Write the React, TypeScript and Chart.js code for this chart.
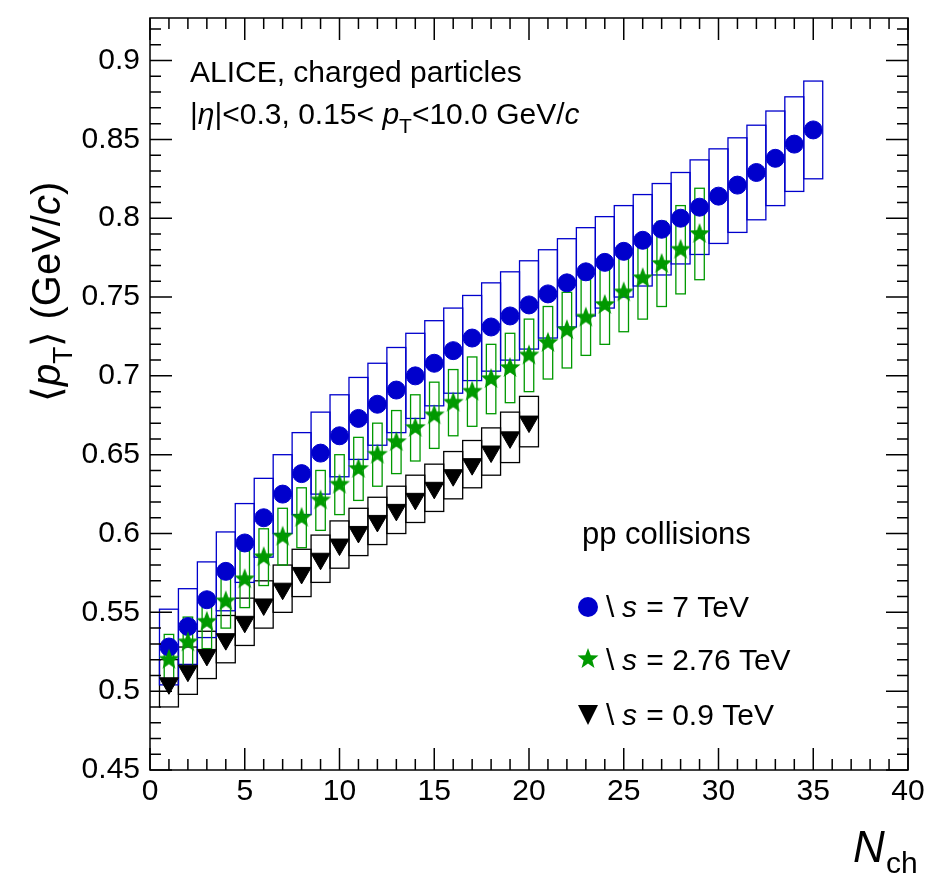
import React, { useEffect, useRef } from "react";
import { Chart, registerables } from "chart.js";
Chart.register(...registerables);

const nch7 = Array.from({ length: 35 }, (_, i) => i + 1);
const pt7 = [0.528,0.541,0.558,0.576,0.594,0.610,0.625,0.638,0.651,0.662,0.673,0.682,0.691,0.700,0.708,0.716,0.724,0.731,0.738,0.745,0.752,0.759,0.766,0.772,0.779,0.786,0.793,0.800,0.807,0.814,0.821,0.829,0.838,0.847,0.856];
const sys7 = [0.024,0.024,0.024,0.025,0.025,0.025,0.025,0.026,0.026,0.026,0.026,0.026,0.027,0.027,0.027,0.027,0.027,0.028,0.028,0.028,0.028,0.028,0.028,0.029,0.029,0.029,0.029,0.029,0.030,0.030,0.030,0.030,0.030,0.030,0.031];
const nch276 = Array.from({ length: 29 }, (_, i) => i + 1);
const pt276 = [0.520,0.531,0.544,0.557,0.571,0.585,0.598,0.610,0.621,0.631,0.641,0.650,0.658,0.667,0.675,0.683,0.690,0.698,0.705,0.713,0.721,0.729,0.737,0.745,0.753,0.762,0.771,0.780,0.790];
const sys276 = [0.016,0.016,0.017,0.017,0.018,0.018,0.018,0.019,0.019,0.019,0.020,0.020,0.020,0.021,0.021,0.021,0.022,0.022,0.022,0.023,0.023,0.024,0.024,0.025,0.025,0.026,0.027,0.028,0.029];
const nch09 = Array.from({ length: 20 }, (_, i) => i + 1);
const pt09 = [0.505,0.513,0.523,0.533,0.544,0.555,0.565,0.575,0.584,0.593,0.601,0.608,0.615,0.622,0.629,0.637,0.644,0.652,0.661,0.671];
const sys09 = [0.015,0.015,0.015,0.015,0.015,0.015,0.015,0.015,0.015,0.015,0.015,0.015,0.015,0.015,0.015,0.015,0.015,0.015,0.016,0.016];
const xTicks = [0,5,10,15,20,25,30,35,40];
const yTicks = [0.45,0.5,0.55,0.6,0.65,0.7,0.75,0.8,0.85,0.9];

const BLUE = "#0000cc", GREEN = "#009900", BLACK = "#000000";
const F = "'Liberation Sans', Arial, sans-serif";

function starCanvas(r: number, color: string) {
  const c = document.createElement("canvas");
  c.width = c.height = r * 2 + 2;
  const g = c.getContext("2d")!;
  g.fillStyle = color;
  g.beginPath();
  for (let i = 0; i < 10; i++) {
    const rr = i % 2 === 0 ? r : r * 0.42;
    const a = -Math.PI / 2 + (i * Math.PI) / 5;
    const x = r + 1 + rr * Math.cos(a), y = r + 1 + rr * Math.sin(a);
    i ? g.lineTo(x, y) : g.moveTo(x, y);
  }
  g.closePath();
  g.fill();
  return c;
}

export default function App() {
  const ref = useRef<HTMLCanvasElement>(null);
  useEffect(() => {
    const star = starCanvas(11, GREEN);
    const boxes = {
      id: "boxes",
      beforeDatasetsDraw(ch: any) {
        const { ctx, scales: { x, y } } = ch;
        ctx.save();
        ctx.lineWidth = 1.3;
        const draw = (xs: number[], ys: number[], es: number[], hw: number, col: string) => {
          ctx.strokeStyle = col;
          xs.forEach((v, i) => {
            const x0 = x.getPixelForValue(v - hw), x1 = x.getPixelForValue(v + hw);
            const y0 = y.getPixelForValue(ys[i] + es[i]), y1 = y.getPixelForValue(ys[i] - es[i]);
            ctx.strokeRect(x0, y0, x1 - x0, y1 - y0);
          });
        };
        draw(nch09, pt09, sys09, 0.5, BLACK);
        draw(nch7, pt7, sys7, 0.5, BLUE);
        draw(nch276, pt276, sys276, 0.25, GREEN);
        ctx.restore();
      },
      afterDraw(ch: any) {
        const { ctx, chartArea: a, scales: { x, y } } = ch;
        ctx.save();
        ctx.strokeStyle = "#000"; ctx.lineWidth = 1.5;
        ctx.strokeRect(a.left, a.top, a.right - a.left, a.bottom - a.top);
        ctx.beginPath();
        for (let v = 0; v <= 40; v += 1) {
          const px = x.getPixelForValue(v), L = v % 5 === 0 ? 22 : 11;
          ctx.moveTo(px, a.bottom); ctx.lineTo(px, a.bottom - L);
          ctx.moveTo(px, a.top); ctx.lineTo(px, a.top + L);
        }
        for (let k = 0; k <= 48; k++) {
          const v = 0.45 + k * 0.01;
          if (v > y.max) break;
          const py = y.getPixelForValue(v), L = k % 5 === 0 ? 22 : 11;
          ctx.moveTo(a.left, py); ctx.lineTo(a.left + L, py);
          ctx.moveTo(a.right, py); ctx.lineTo(a.right - L, py);
        }
        ctx.stroke();
        ctx.fillStyle = "#000";
        ctx.font = `30px ${F}`;
        ctx.textAlign = "center"; ctx.textBaseline = "top";
        xTicks.forEach(v => ctx.fillText(String(v), x.getPixelForValue(v), a.bottom + 7));
        ctx.textAlign = "right"; ctx.textBaseline = "middle";
        yTicks.forEach(v => ctx.fillText(String(v), a.left - 10, y.getPixelForValue(v)));
        ctx.textAlign = "left"; ctx.textBaseline = "alphabetic";
        ctx.font = `italic 44px ${F}`;
        ctx.fillText("N", 853, 862);
        ctx.font = `30px ${F}`;
        ctx.fillText("ch", 886, 873);
        ctx.save();
        ctx.translate(60, 290); ctx.rotate(-Math.PI / 2);
        let cx = -112;
        const put = (t: string, f: string, dy = 0) => { ctx.font = f; ctx.fillText(t, cx, dy); cx += ctx.measureText(t).width; };
        put("\u27E8", `40px ${F}`);
        put("p", `italic 40px ${F}`);
        put("T", `28px ${F}`, 12);
        put("\u27E9 (GeV/", `40px ${F}`);
        put("c", `italic 40px ${F}`);
        put(")", `40px ${F}`);
        ctx.restore();
        ctx.font = `30px ${F}`;
        ctx.fillText("ALICE, charged particles", 190, 82);
        {
          let xx = 190; const yy = 124;
          const p = (t: string, f: string, dy = 0) => { ctx.font = f; ctx.fillText(t, xx, yy + dy); xx += ctx.measureText(t).width; };
          p("|", `30px ${F}`); p("\u03B7", `italic 30px ${F}`); p("|<0.3, 0.15< ", `30px ${F}`);
          p("p", `italic 30px ${F}`); p("T", `21px ${F}`, 9); p("<10.0 GeV/", `30px ${F}`); p("c", `italic 30px ${F}`);
        }
        ctx.font = `31px ${F}`;
        ctx.fillText("pp collisions", 582, 544);
        const leg = [[617, "7 TeV", "c"], [670, "2.76 TeV", "s"], [725, "0.9 TeV", "t"]] as any[];
        leg.forEach(([yy, t, m]) => {
          if (m === "c") { ctx.fillStyle = BLUE; ctx.beginPath(); ctx.arc(588, yy - 10, 10, 0, 7); ctx.fill(); }
          if (m === "s") ctx.drawImage(star, 576, yy - 23);
          if (m === "t") { ctx.fillStyle = BLACK; ctx.beginPath(); ctx.moveTo(578, yy - 20); ctx.lineTo(598, yy - 20); ctx.lineTo(588, yy); ctx.fill(); }
          ctx.fillStyle = "#000";
          ctx.font = `30px ${F}`; ctx.fillText("\\", 606, yy);
          ctx.font = `italic 30px ${F}`; ctx.fillText("s", 622, yy);
          ctx.font = `30px ${F}`; ctx.fillText(" = " + t, 638, yy);
        });
        ctx.restore();
      },
    };
    const mk = (xs: number[], ys: number[]) => xs.map((v, i) => ({ x: v, y: ys[i] }));
    const chart = new Chart(ref.current!, {
      type: "scatter",
      data: {
        datasets: [
          { data: mk(nch09, pt09), pointStyle: "triangle", rotation: 180, pointRadius: 11, backgroundColor: BLACK, borderColor: BLACK },
          { data: mk(nch276, pt276), pointStyle: star as any, pointRadius: 11, backgroundColor: GREEN, borderColor: GREEN },
          { data: mk(nch7, pt7), pointStyle: "circle", pointRadius: 9, backgroundColor: BLUE, borderColor: BLUE },
        ],
      },
      options: {
        animation: false, responsive: false,
        layout: { padding: { top: 18, right: 42, left: 150, bottom: 107 } },
        plugins: { legend: { display: false }, tooltip: { enabled: false } },
        scales: {
          x: { min: 0, max: 40, display: false },
          y: { min: 0.45, max: 0.927, display: false },
        },
      },
      plugins: [boxes],
    });
    return () => chart.destroy();
  }, []);
  return (
    <div style={{ position: "fixed", left: 0, top: 0, width: 950, height: 877, background: "#fff" }}>
      <canvas ref={ref} width={950} height={877} />
    </div>
  );
}
